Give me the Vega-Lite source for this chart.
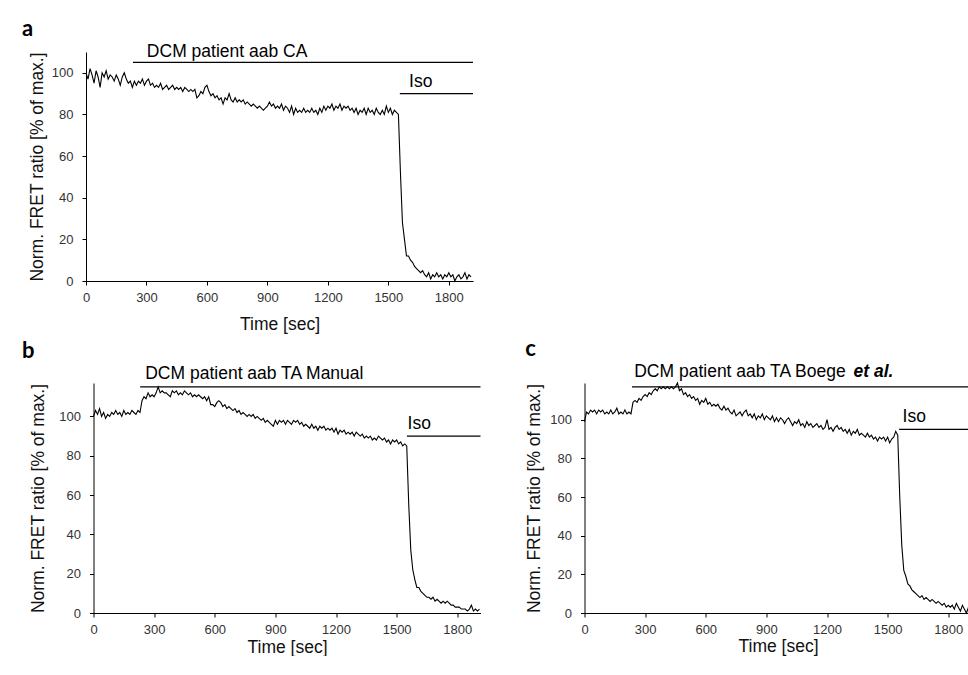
{
"$schema": "https://vega.github.io/schema/vega-lite/v6.json",
"background": "white",
"padding": {"left": 22, "top": 17, "right": 0, "bottom": 0},
"config": {
  "font": "Liberation Sans",
  "view": {"stroke": null},
  "axis": {"grid": false, "domainColor": "#000", "domainWidth": 1, "tickColor": "#000", "tickSize": 4, "labelFont": "Liberation Sans", "labelFontSize": 13, "labelColor": "#333", "titleFont": "Liberation Sans", "titleFontSize": 17.5, "titleFontWeight": "normal", "titleColor": "#111"},
  "axisX": {"labelPadding": 6, "labelFlush": false, "labelOverlap": false, "format": "d"},
  "axisY": {"labelPadding": 9},
  "title": {"anchor": "start", "frame": "group", "font": "Lato", "fontWeight": "bold", "fontSize": 22, "color": "#000", "offset": 2}
},
"datasets": {
"ta": [{"t":0,"v":100},{"t":10,"v":97},{"t":20,"v":102},{"t":30,"v":99},{"t":40,"v":95},{"t":50,"v":101},{"t":60,"v":98},{"t":70,"v":93},{"t":80,"v":100},{"t":90,"v":98},{"t":100,"v":101},{"t":110,"v":97},{"t":120,"v":99},{"t":130,"v":98},{"t":140,"v":96},{"t":150,"v":99},{"t":160,"v":97},{"t":170,"v":94},{"t":180,"v":98},{"t":190,"v":100},{"t":200,"v":97},{"t":210,"v":95},{"t":220,"v":96},{"t":230,"v":93},{"t":240,"v":96},{"t":250,"v":94},{"t":260,"v":96},{"t":270,"v":95},{"t":280,"v":97},{"t":290,"v":94},{"t":300,"v":96},{"t":310,"v":97},{"t":320,"v":94},{"t":330,"v":95},{"t":340,"v":93},{"t":350,"v":94},{"t":360,"v":93},{"t":370,"v":95},{"t":380,"v":92},{"t":390,"v":93},{"t":400,"v":94},{"t":410,"v":92},{"t":420,"v":93},{"t":430,"v":94},{"t":440,"v":92},{"t":450,"v":93},{"t":460,"v":92},{"t":470,"v":93},{"t":480,"v":91},{"t":490,"v":93},{"t":500,"v":92},{"t":510,"v":91},{"t":520,"v":92},{"t":530,"v":91},{"t":540,"v":92},{"t":550,"v":88},{"t":560,"v":89},{"t":570,"v":91},{"t":580,"v":90},{"t":590,"v":93},{"t":600,"v":94},{"t":610,"v":91},{"t":620,"v":89},{"t":630,"v":90},{"t":640,"v":88},{"t":650,"v":89},{"t":660,"v":87},{"t":670,"v":88},{"t":680,"v":85},{"t":690,"v":88},{"t":700,"v":87},{"t":710,"v":90},{"t":720,"v":87},{"t":730,"v":86},{"t":740,"v":88},{"t":750,"v":86},{"t":760,"v":87},{"t":770,"v":86},{"t":780,"v":87},{"t":790,"v":85},{"t":800,"v":86},{"t":810,"v":85},{"t":820,"v":84},{"t":830,"v":85},{"t":840,"v":84},{"t":850,"v":83},{"t":860,"v":84},{"t":870,"v":83},{"t":880,"v":82},{"t":890,"v":83},{"t":900,"v":84},{"t":910,"v":86},{"t":920,"v":84},{"t":930,"v":85},{"t":940,"v":83},{"t":950,"v":84},{"t":960,"v":83},{"t":970,"v":85},{"t":980,"v":82},{"t":990,"v":84},{"t":1000,"v":83},{"t":1010,"v":81},{"t":1020,"v":84},{"t":1030,"v":80},{"t":1040,"v":83},{"t":1050,"v":81},{"t":1060,"v":82},{"t":1070,"v":81},{"t":1080,"v":83},{"t":1090,"v":81},{"t":1100,"v":82},{"t":1110,"v":81},{"t":1120,"v":83},{"t":1130,"v":81},{"t":1140,"v":82},{"t":1150,"v":80},{"t":1160,"v":83},{"t":1170,"v":81},{"t":1180,"v":84},{"t":1190,"v":82},{"t":1200,"v":84},{"t":1210,"v":83},{"t":1220,"v":85},{"t":1230,"v":82},{"t":1240,"v":84},{"t":1250,"v":83},{"t":1260,"v":85},{"t":1270,"v":82},{"t":1280,"v":84},{"t":1290,"v":83},{"t":1300,"v":84},{"t":1310,"v":82},{"t":1320,"v":83},{"t":1330,"v":81},{"t":1340,"v":83},{"t":1350,"v":80},{"t":1360,"v":82},{"t":1370,"v":81},{"t":1380,"v":83},{"t":1390,"v":80},{"t":1400,"v":83},{"t":1410,"v":81},{"t":1420,"v":82},{"t":1430,"v":80},{"t":1440,"v":83},{"t":1450,"v":81},{"t":1460,"v":80},{"t":1470,"v":82},{"t":1480,"v":80},{"t":1490,"v":84},{"t":1500,"v":81},{"t":1510,"v":83},{"t":1520,"v":80},{"t":1530,"v":82},{"t":1540,"v":81},{"t":1550,"v":80},{"t":1560,"v":52},{"t":1570,"v":28},{"t":1580,"v":20},{"t":1590,"v":12},{"t":1600,"v":12},{"t":1610,"v":10},{"t":1620,"v":9},{"t":1630,"v":7},{"t":1640,"v":6},{"t":1650,"v":5},{"t":1660,"v":4},{"t":1670,"v":5},{"t":1680,"v":3},{"t":1690,"v":2},{"t":1700,"v":4},{"t":1710,"v":1},{"t":1720,"v":3},{"t":1730,"v":2},{"t":1740,"v":4},{"t":1750,"v":2},{"t":1760,"v":3},{"t":1770,"v":1},{"t":1780,"v":3},{"t":1790,"v":2},{"t":1800,"v":4},{"t":1810,"v":2},{"t":1820,"v":3},{"t":1830,"v":0},{"t":1840,"v":2},{"t":1850,"v":3},{"t":1860,"v":1},{"t":1870,"v":2},{"t":1880,"v":4},{"t":1890,"v":1},{"t":1900,"v":3},{"t":1910,"v":2}],
"tb": [{"t":0,"v":100},{"t":10,"v":103},{"t":20,"v":101},{"t":30,"v":104},{"t":40,"v":100},{"t":50,"v":102},{"t":60,"v":99},{"t":70,"v":101},{"t":80,"v":100},{"t":90,"v":102},{"t":100,"v":101},{"t":110,"v":103},{"t":120,"v":101},{"t":130,"v":102},{"t":140,"v":100},{"t":150,"v":103},{"t":160,"v":101},{"t":170,"v":102},{"t":180,"v":101},{"t":190,"v":103},{"t":200,"v":102},{"t":210,"v":101},{"t":220,"v":103},{"t":230,"v":102},{"t":240,"v":108},{"t":250,"v":110},{"t":260,"v":109},{"t":270,"v":112},{"t":280,"v":110},{"t":290,"v":111},{"t":300,"v":110},{"t":310,"v":112},{"t":320,"v":115},{"t":330,"v":112},{"t":340,"v":113},{"t":350,"v":112},{"t":360,"v":112},{"t":370,"v":111},{"t":380,"v":110},{"t":390,"v":113},{"t":400,"v":112},{"t":410,"v":113},{"t":420,"v":111},{"t":430,"v":112},{"t":440,"v":111},{"t":450,"v":113},{"t":460,"v":112},{"t":470,"v":111},{"t":480,"v":112},{"t":490,"v":110},{"t":500,"v":111},{"t":510,"v":110},{"t":520,"v":111},{"t":530,"v":110},{"t":540,"v":109},{"t":550,"v":110},{"t":560,"v":108},{"t":570,"v":110},{"t":580,"v":106},{"t":590,"v":106},{"t":600,"v":105},{"t":610,"v":107},{"t":620,"v":108},{"t":630,"v":107},{"t":640,"v":105},{"t":650,"v":106},{"t":660,"v":104},{"t":670,"v":105},{"t":680,"v":104},{"t":690,"v":103},{"t":700,"v":104},{"t":710,"v":102},{"t":720,"v":103},{"t":730,"v":101},{"t":740,"v":102},{"t":750,"v":101},{"t":760,"v":100},{"t":770,"v":101},{"t":780,"v":100},{"t":790,"v":101},{"t":800,"v":99},{"t":810,"v":100},{"t":820,"v":99},{"t":830,"v":98},{"t":840,"v":99},{"t":850,"v":97},{"t":860,"v":98},{"t":870,"v":97},{"t":880,"v":96},{"t":890,"v":95},{"t":900,"v":98},{"t":910,"v":96},{"t":920,"v":98},{"t":930,"v":97},{"t":940,"v":98},{"t":950,"v":96},{"t":960,"v":98},{"t":970,"v":97},{"t":980,"v":96},{"t":990,"v":98},{"t":1000,"v":97},{"t":1010,"v":98},{"t":1020,"v":96},{"t":1030,"v":97},{"t":1040,"v":95},{"t":1050,"v":96},{"t":1060,"v":95},{"t":1070,"v":94},{"t":1080,"v":96},{"t":1090,"v":94},{"t":1100,"v":95},{"t":1110,"v":93},{"t":1120,"v":95},{"t":1130,"v":94},{"t":1140,"v":95},{"t":1150,"v":93},{"t":1160,"v":94},{"t":1170,"v":93},{"t":1180,"v":94},{"t":1190,"v":92},{"t":1200,"v":94},{"t":1210,"v":91},{"t":1220,"v":93},{"t":1230,"v":92},{"t":1240,"v":93},{"t":1250,"v":91},{"t":1260,"v":92},{"t":1270,"v":91},{"t":1280,"v":92},{"t":1290,"v":90},{"t":1300,"v":92},{"t":1310,"v":91},{"t":1320,"v":90},{"t":1330,"v":91},{"t":1340,"v":89},{"t":1350,"v":90},{"t":1360,"v":89},{"t":1370,"v":90},{"t":1380,"v":88},{"t":1390,"v":89},{"t":1400,"v":88},{"t":1410,"v":90},{"t":1420,"v":89},{"t":1430,"v":88},{"t":1440,"v":89},{"t":1450,"v":87},{"t":1460,"v":88},{"t":1470,"v":86},{"t":1480,"v":88},{"t":1490,"v":87},{"t":1500,"v":88},{"t":1510,"v":86},{"t":1520,"v":87},{"t":1530,"v":85},{"t":1540,"v":86},{"t":1550,"v":85},{"t":1560,"v":55},{"t":1570,"v":32},{"t":1580,"v":22},{"t":1590,"v":17},{"t":1600,"v":13},{"t":1610,"v":13},{"t":1620,"v":11},{"t":1630,"v":10},{"t":1640,"v":9},{"t":1650,"v":8},{"t":1660,"v":8},{"t":1670,"v":7},{"t":1680,"v":8},{"t":1690,"v":6},{"t":1700,"v":7},{"t":1710,"v":6},{"t":1720,"v":5},{"t":1730,"v":6},{"t":1740,"v":5},{"t":1750,"v":6},{"t":1760,"v":5},{"t":1770,"v":4},{"t":1780,"v":4},{"t":1790,"v":3},{"t":1800,"v":3},{"t":1810,"v":3},{"t":1820,"v":2},{"t":1830,"v":2},{"t":1840,"v":2},{"t":1850,"v":1},{"t":1860,"v":2},{"t":1870,"v":4},{"t":1880,"v":1},{"t":1890,"v":2},{"t":1900,"v":1},{"t":1910,"v":2}],
"tc": [{"t":0,"v":99},{"t":10,"v":104},{"t":20,"v":103},{"t":30,"v":105},{"t":40,"v":104},{"t":50,"v":105},{"t":60,"v":103},{"t":70,"v":105},{"t":80,"v":104},{"t":90,"v":105},{"t":100,"v":103},{"t":110,"v":104},{"t":120,"v":103},{"t":130,"v":105},{"t":140,"v":103},{"t":150,"v":104},{"t":160,"v":106},{"t":170,"v":103},{"t":180,"v":104},{"t":190,"v":103},{"t":200,"v":105},{"t":210,"v":103},{"t":220,"v":104},{"t":230,"v":103},{"t":240,"v":109},{"t":250,"v":110},{"t":260,"v":109},{"t":270,"v":111},{"t":280,"v":110},{"t":290,"v":112},{"t":300,"v":113},{"t":310,"v":112},{"t":320,"v":114},{"t":330,"v":113},{"t":340,"v":115},{"t":350,"v":116},{"t":360,"v":115},{"t":370,"v":117},{"t":380,"v":116},{"t":390,"v":117},{"t":400,"v":116},{"t":410,"v":117},{"t":420,"v":116},{"t":430,"v":117},{"t":440,"v":116},{"t":450,"v":117},{"t":460,"v":119},{"t":470,"v":115},{"t":480,"v":116},{"t":490,"v":113},{"t":500,"v":114},{"t":510,"v":112},{"t":520,"v":113},{"t":530,"v":111},{"t":540,"v":112},{"t":550,"v":110},{"t":560,"v":111},{"t":570,"v":108},{"t":580,"v":110},{"t":590,"v":109},{"t":600,"v":111},{"t":610,"v":108},{"t":620,"v":109},{"t":630,"v":107},{"t":640,"v":108},{"t":650,"v":107},{"t":660,"v":108},{"t":670,"v":106},{"t":680,"v":105},{"t":690,"v":107},{"t":700,"v":105},{"t":710,"v":106},{"t":720,"v":104},{"t":730,"v":103},{"t":740,"v":105},{"t":750,"v":102},{"t":760,"v":103},{"t":770,"v":104},{"t":780,"v":102},{"t":790,"v":104},{"t":800,"v":105},{"t":810,"v":102},{"t":820,"v":103},{"t":830,"v":101},{"t":840,"v":103},{"t":850,"v":100},{"t":860,"v":102},{"t":870,"v":101},{"t":880,"v":103},{"t":890,"v":100},{"t":900,"v":102},{"t":910,"v":101},{"t":920,"v":100},{"t":930,"v":102},{"t":940,"v":99},{"t":950,"v":101},{"t":960,"v":99},{"t":970,"v":101},{"t":980,"v":100},{"t":990,"v":98},{"t":1000,"v":100},{"t":1010,"v":101},{"t":1020,"v":99},{"t":1030,"v":97},{"t":1040,"v":99},{"t":1050,"v":98},{"t":1060,"v":100},{"t":1070,"v":97},{"t":1080,"v":98},{"t":1090,"v":96},{"t":1100,"v":99},{"t":1110,"v":97},{"t":1120,"v":98},{"t":1130,"v":96},{"t":1140,"v":97},{"t":1150,"v":98},{"t":1160,"v":96},{"t":1170,"v":97},{"t":1180,"v":95},{"t":1190,"v":96},{"t":1200,"v":100},{"t":1210,"v":95},{"t":1220,"v":96},{"t":1230,"v":94},{"t":1240,"v":96},{"t":1250,"v":97},{"t":1260,"v":95},{"t":1270,"v":96},{"t":1280,"v":94},{"t":1290,"v":95},{"t":1300,"v":93},{"t":1310,"v":95},{"t":1320,"v":92},{"t":1330,"v":94},{"t":1340,"v":93},{"t":1350,"v":95},{"t":1360,"v":92},{"t":1370,"v":93},{"t":1380,"v":92},{"t":1390,"v":91},{"t":1400,"v":93},{"t":1410,"v":91},{"t":1420,"v":92},{"t":1430,"v":90},{"t":1440,"v":91},{"t":1450,"v":89},{"t":1460,"v":91},{"t":1470,"v":90},{"t":1480,"v":91},{"t":1490,"v":89},{"t":1500,"v":91},{"t":1510,"v":88},{"t":1520,"v":90},{"t":1530,"v":91},{"t":1540,"v":94},{"t":1550,"v":92},{"t":1560,"v":60},{"t":1570,"v":35},{"t":1580,"v":22},{"t":1590,"v":19},{"t":1600,"v":15},{"t":1610,"v":14},{"t":1620,"v":12},{"t":1630,"v":11},{"t":1640,"v":10},{"t":1650,"v":9},{"t":1660,"v":8},{"t":1670,"v":9},{"t":1680,"v":7},{"t":1690,"v":8},{"t":1700,"v":7},{"t":1710,"v":6},{"t":1720,"v":7},{"t":1730,"v":6},{"t":1740,"v":5},{"t":1750,"v":6},{"t":1760,"v":5},{"t":1770,"v":4},{"t":1780,"v":5},{"t":1790,"v":3},{"t":1800,"v":4},{"t":1810,"v":3},{"t":1820,"v":4},{"t":1830,"v":2},{"t":1840,"v":5},{"t":1850,"v":3},{"t":1860,"v":1},{"t":1870,"v":4},{"t":1880,"v":2},{"t":1890,"v":0},{"t":1900,"v":3},{"t":1910,"v":2}],
"ba": [{"t":233,"t2":1920,"v":105},{"t":1557,"t2":1920,"v":90}],
"bb": [{"t":231,"t2":1915,"v":115},{"t":1551,"t2":1915,"v":90}],
"bc": [{"t":235,"t2":1915,"v":117},{"t":1557,"t2":1915,"v":95}],
"la": [{"t":302,"v":107.6,"label":"DCM patient aab CA"},{"t":1603,"v":93,"label":"Iso"}],
"lb": [{"t":256,"v":119.2,"label":"DCM patient aab TA Manual"},{"t":1554,"v":93.7,"label":"Iso"}],
"lc": [{"t":246,"v":122.1,"label":"DCM patient aab TA Boege"},{"t":1574,"v":98.8,"label":"Iso"}],
"lc2": [{"t":1331,"v":122.1,"label":"et al."}]
},
"spacing": 5,
"columns": 1,
"align": "none",
"concat": [
{
  "width": 387, "height": 229,
  "title": {"text": "a", "dx": -64},
  "encoding": {
    "x": {"field": "t", "type": "quantitative", "scale": {"domain": [0, 1920], "nice": false}, "axis": {"values": [0,300,600,900,1200,1500,1800], "title": "Time [sec]", "titlePadding": 11}},
    "y": {"field": "v", "type": "quantitative", "scale": {"domain": [0, 110], "nice": false}, "axis": {"values": [0,20,40,60,80,100], "title": "Norm. FRET ratio [% of max.]", "titlePadding": 5}}
  },
  "layer": [
    {"data": {"name": "ta"}, "mark": {"type": "line", "color": "#000", "strokeWidth": 1.1}},
    {"data": {"name": "ba"}, "mark": {"type": "rule", "color": "#000", "strokeWidth": 1.2}, "encoding": {"x2": {"field": "t2"}}},
    {"data": {"name": "la"}, "mark": {"type": "text", "align": "left", "baseline": "alphabetic", "fontSize": 17.5, "color": "#000"}, "encoding": {"text": {"field": "label"}}}
  ]
},
{
  "hconcat": [
  {
    "width": 1, "height": 1,
    "data": {"values": []},
    "mark": {"type": "point", "opacity": 0},
    "encoding": {}
  },
  {
    "hconcat": [
    {
      "width": 387, "height": 230,
      "title": {"text": "b", "dx": -71.5},
      "encoding": {
        "x": {"field": "t", "type": "quantitative", "scale": {"domain": [0, 1915], "nice": false}, "axis": {"values": [0,300,600,900,1200,1500,1800], "title": "Time [sec]", "titlePadding": 2}},
        "y": {"field": "v", "type": "quantitative", "scale": {"domain": [0, 117], "nice": false}, "axis": {"values": [0,20,40,60,80,100], "title": "Norm. FRET ratio [% of max.]", "titlePadding": 11}}
      },
      "layer": [
        {"data": {"name": "tb"}, "mark": {"type": "line", "color": "#000", "strokeWidth": 1.1}},
        {"data": {"name": "bb"}, "mark": {"type": "rule", "color": "#000", "strokeWidth": 1.2}, "encoding": {"x2": {"field": "t2"}}},
        {"data": {"name": "lb"}, "mark": {"type": "text", "align": "left", "baseline": "alphabetic", "fontSize": 17.5, "color": "#000"}, "encoding": {"text": {"field": "label"}}}
      ]
    },
    {
      "width": 387, "height": 230,
      "title": {"text": "c", "dx": -59.3},
      "encoding": {
        "x": {"field": "t", "type": "quantitative", "scale": {"domain": [0, 1915], "nice": false}, "axis": {"values": [0,300,600,900,1200,1500,1800], "title": "Time [sec]", "titlePadding": 1}},
        "y": {"field": "v", "type": "quantitative", "scale": {"domain": [0, 119], "nice": false}, "axis": {"values": [0,20,40,60,80,100], "title": "Norm. FRET ratio [% of max.]", "titlePadding": 6}}
      },
      "layer": [
        {"data": {"name": "tc"}, "mark": {"type": "line", "color": "#000", "strokeWidth": 1.1}},
        {"data": {"name": "bc"}, "mark": {"type": "rule", "color": "#000", "strokeWidth": 1.2}, "encoding": {"x2": {"field": "t2"}}},
        {"data": {"name": "lc"}, "mark": {"type": "text", "align": "left", "baseline": "alphabetic", "fontSize": 17.5, "color": "#000"}, "encoding": {"text": {"field": "label"}}},
        {"data": {"name": "lc2"}, "mark": {"type": "text", "align": "left", "baseline": "alphabetic", "fontSize": 17.5, "fontWeight": "bold", "fontStyle": "italic", "color": "#000"}, "encoding": {"text": {"field": "label"}}}
      ]
    }
    ],
    "bounds": "flush",
    "spacing": 104
  }
  ],
  "bounds": "flush",
  "spacing": 6.5
}
]
}
